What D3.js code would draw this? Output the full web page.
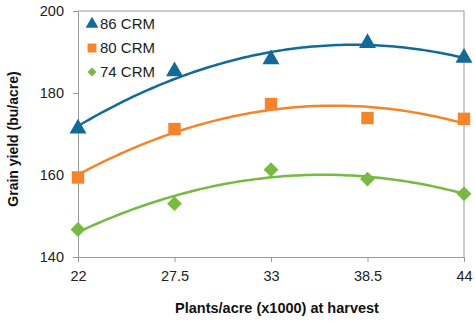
<!DOCTYPE html>
<html><head><meta charset="utf-8">
<script src="https://cdn.jsdelivr.net/npm/d3@7"></script>
<style>body{margin:0;background:#fff;}svg{display:block;font-family:"Liberation Sans",Arial,sans-serif;}</style>
</head><body><svg id="c" width="475" height="321"></svg>
<script>
const xTicks = [22, 27.5, 33, 38.5, 44];
const yTicks = [140, 160, 180, 200];
const seriesNames = ["86 CRM", "80 CRM", "74 CRM"];
const crm86 = [171.3, 185.3, 188.2, 192.2, 188.6];
const crm80 = [159.4, 171.2, 177.3, 173.9, 173.7];
const crm74 = [146.7, 153.0, 161.3, 159.0, 155.4];
const colors = ["#136a98", "#f5852a", "#78b943"];
const shapes = [d3.symbolTriangle, d3.symbolSquare, d3.symbolSquare];
const rotations = [0, 0, 45];
const sizes = [125, 155, 110];
const legendSizes = [70, 80, 40];

const svg = d3.select("#c");
const m = {l:78, r:11, t:11, b:64};
const W = 475, H = 321;
const x = d3.scaleLinear().domain([22,44]).range([m.l, W-m.r]);
const y = d3.scaleLinear().domain([140,200]).range([H-m.b, m.t]);

svg.append("path").attr("d", `M${x(22)},${y(200)}H${x(44)}V${y(140)}`)
  .attr("fill","none").attr("stroke","#999").attr("stroke-width",1);

const xAxis = svg.append("g").attr("transform",`translate(0,${y(140)})`)
  .call(d3.axisBottom(x).tickValues(xTicks).tickFormat(d=>d).tickSize(5).tickSizeOuter(0));
const yAxis = svg.append("g").attr("transform",`translate(${x(22)},0)`)
  .call(d3.axisLeft(y).tickValues(yTicks).tickSize(5).tickSizeOuter(0));
[xAxis,yAxis].forEach(g=>{
  g.select(".domain").attr("stroke","#999");
  g.selectAll(".tick line").attr("stroke","#999");
  g.selectAll("text").attr("font-size",14.5).attr("fill","#222")
   .attr("font-family","'Liberation Sans',Arial,sans-serif");
});
xAxis.selectAll("text").attr("dy","1.1em");
yAxis.selectAll("text").attr("dx","-6");

// quadratic least-squares fit (trendline)
function fit(xs, ys){
  let n=xs.length, s=[0,0,0,0,0], t=[0,0,0];
  for(let i=0;i<n;i++){const a=xs[i];for(let k=0;k<5;k++)s[k]+=a**k;for(let k=0;k<3;k++)t[k]+=ys[i]*a**k;}
  const A=[[s[0],s[1],s[2],t[0]],[s[1],s[2],s[3],t[1]],[s[2],s[3],s[4],t[2]]];
  for(let i=0;i<3;i++){for(let j=i+1;j<3;j++){const f=A[j][i]/A[i][i];for(let k=i;k<4;k++)A[j][k]-=f*A[i][k];}}
  const c=[0,0,0];
  for(let i=2;i>=0;i--){let v=A[i][3];for(let k=i+1;k<3;k++)v-=A[i][k]*c[k];c[i]=v/A[i][i];}
  return v=>c[0]+c[1]*v+c[2]*v*v;
}

const data = [crm86, crm80, crm74];
data.forEach((vals,i)=>{
  const f = fit(xTicks, vals);
  const pts = d3.range(0,101).map(k=>22+k*0.22);
  svg.append("path").datum(pts)
    .attr("d", d3.line().x(d=>x(d)).y(d=>y(f(d))))
    .attr("fill","none").attr("stroke",colors[i]).attr("stroke-width",2.5);
});
data.forEach((vals,i)=>{
  svg.append("g").selectAll("path").data(vals).join("path")
    .attr("transform",(d,j)=>`translate(${x(xTicks[j])},${y(d)}) rotate(${rotations[i]})`)
    .attr("d", d3.symbol().type(shapes[i]).size(sizes[i]))
    .attr("fill",colors[i]);
});

const lg = svg.append("g");
seriesNames.forEach((n,i)=>{
  const cy = 24 + i*24;
  lg.append("path").attr("transform",`translate(92,${cy}) rotate(${rotations[i]})`)
    .attr("d", d3.symbol().type(shapes[i]).size(legendSizes[i])).attr("fill",colors[i]);
  lg.append("text").attr("x",100).attr("y",cy).attr("dy","0.36em")
    .attr("font-size",15).attr("fill","#222").text(n);
});

svg.append("text").attr("x",277).attr("y",313).attr("text-anchor","middle")
  .attr("font-size",14.5).attr("font-weight","bold").attr("fill","#111")
  .text("Plants/acre (x1000) at harvest");
svg.append("text").attr("transform","translate(18,139) rotate(-90)").attr("text-anchor","middle")
  .attr("font-size",14).attr("font-weight","bold").attr("fill","#111")
  .text("Grain yield (bu/acre)");
</script></body></html>
